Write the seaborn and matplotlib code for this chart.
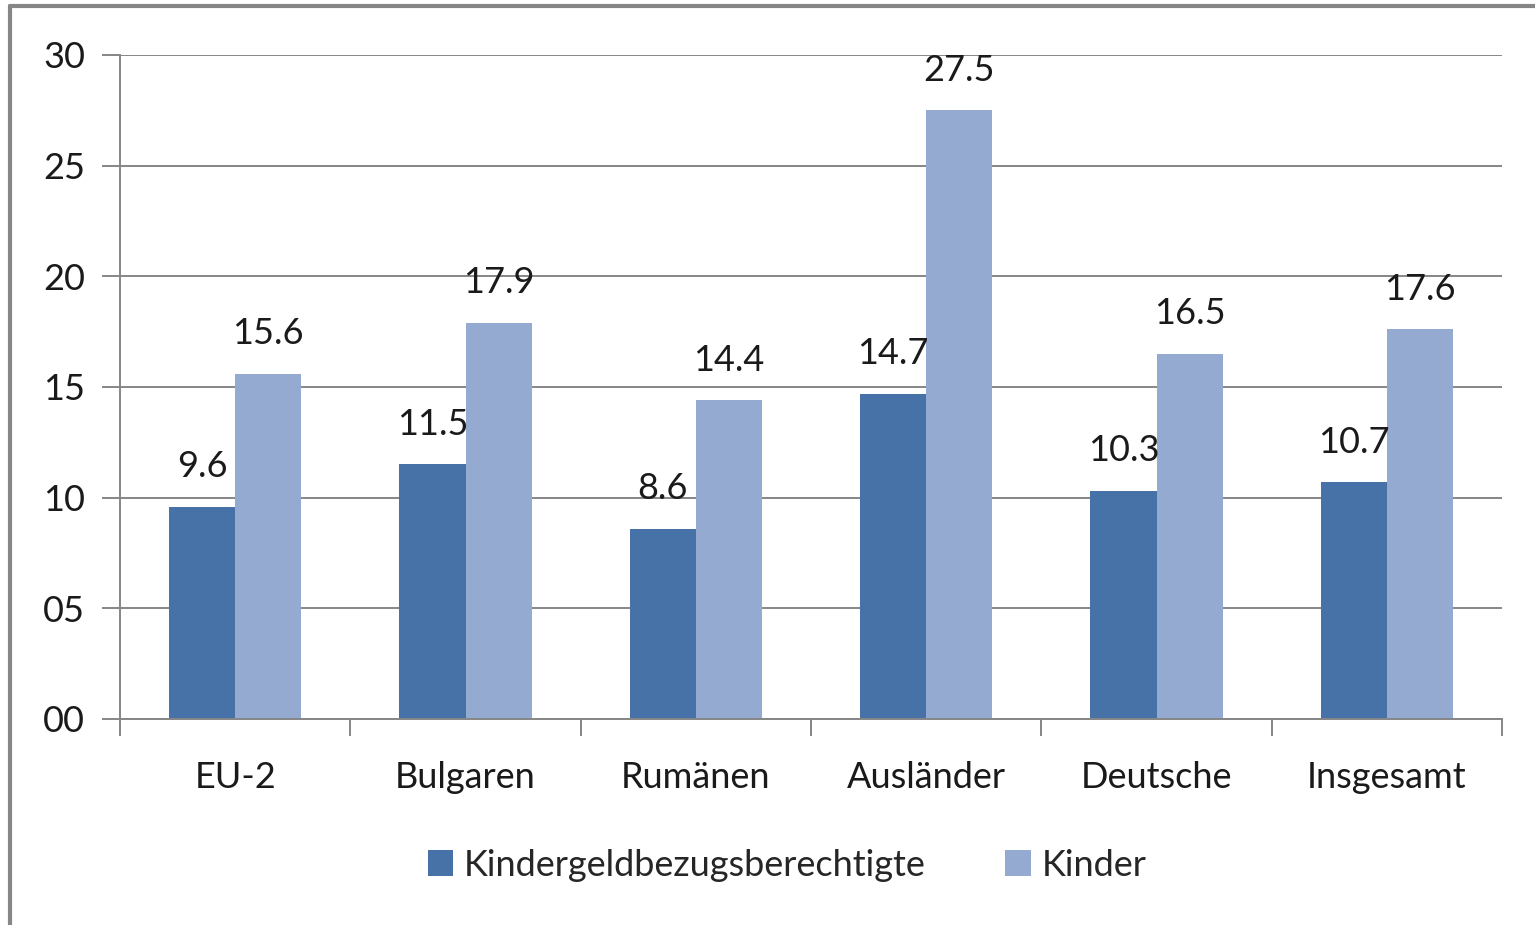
import matplotlib
matplotlib.use("Agg")
import matplotlib.pyplot as plt
import seaborn as sns
import pandas as pd
from matplotlib.lines import Line2D
from matplotlib.ticker import FuncFormatter, FixedLocator

categories = ["EU-2", "Bulgaren", "Rumänen", "Ausländer", "Deutsche", "Insgesamt"]
series_names = ["Kindergeldbezugsberechtigte", "Kinder"]
berechtigte = [9.6, 11.5, 8.6, 14.7, 10.3, 10.7]
kinder = [15.6, 17.9, 14.4, 27.5, 16.5, 17.6]
yticks = [0, 5, 10, 15, 20, 25, 30]

df = pd.DataFrame({
    "Kategorie": categories * 2,
    "Serie": [series_names[0]] * len(categories) + [series_names[1]] * len(categories),
    "Wert": berechtigte + kinder,
})

sns.set_theme(style="white")
plt.rcParams["font.family"] = ["Lato", "DejaVu Sans"]
grey = "#868686"
fs = 26

fig = plt.figure(figsize=(15.35, 9.25), dpi=100)
ax = fig.add_axes([120/1535, 1-719/925, (1502-120)/1535, (719-55)/925])

sns.barplot(data=df, x="Kategorie", y="Wert", hue="Serie",
            palette=["#4672A8", "#95AAD0"], width=0.574, gap=0,
            saturation=1, linewidth=0, edgecolor="none", ax=ax, legend=True)

ax.set_ylim(0, 30)
ax.set_xlim(-0.5, len(categories) - 0.5)
ax.set_yticks(yticks)
ax.yaxis.set_major_formatter(FuncFormatter(lambda v, p: f"{int(v):02d}"))
ax.yaxis.grid(True, color=grey, linewidth=1.4)
ax.set_axisbelow(True)
ax.set_xlabel("")
ax.set_ylabel("")

for c in ax.containers:
    ax.bar_label(c, fmt="%.1f", padding=17, fontsize=fs, color="#1a1a1a")

for s in ["top", "right"]:
    ax.spines[s].set_visible(False)
for s in ["left", "bottom"]:
    ax.spines[s].set_color(grey)
    ax.spines[s].set_linewidth(1.4)

ax.tick_params(axis="y", length=13, width=1.4, color=grey, direction="out",
               labelsize=fs, pad=12, labelcolor="#1a1a1a", left=True)
ax.tick_params(axis="x", which="major", length=0, labelsize=fs, pad=30,
               labelcolor="#1a1a1a")
ax.xaxis.set_minor_locator(FixedLocator([i - 0.5 for i in range(len(categories) + 1)]))
ax.tick_params(axis="x", which="minor", length=12, width=1.4, color=grey,
               direction="out", bottom=True)

handles, labels = ax.get_legend_handles_labels()
ax.get_legend().remove()
fig.legend(handles, labels, loc="center", bbox_to_anchor=(787/1535, 1-865/925),
           ncol=2, frameon=False, fontsize=fs, handlelength=0.7, handleheight=0.7,
           handletextpad=0.3, columnspacing=2.2)

fig.add_artist(Line2D([10/1535, 10/1535], [0, 1-6/925], transform=fig.transFigure,
                      color=grey, linewidth=3))
fig.add_artist(Line2D([10/1535, 1], [1-6/925, 1-6/925], transform=fig.transFigure,
                      color=grey, linewidth=3))

fig.savefig("out.png", dpi=100, facecolor="white")
